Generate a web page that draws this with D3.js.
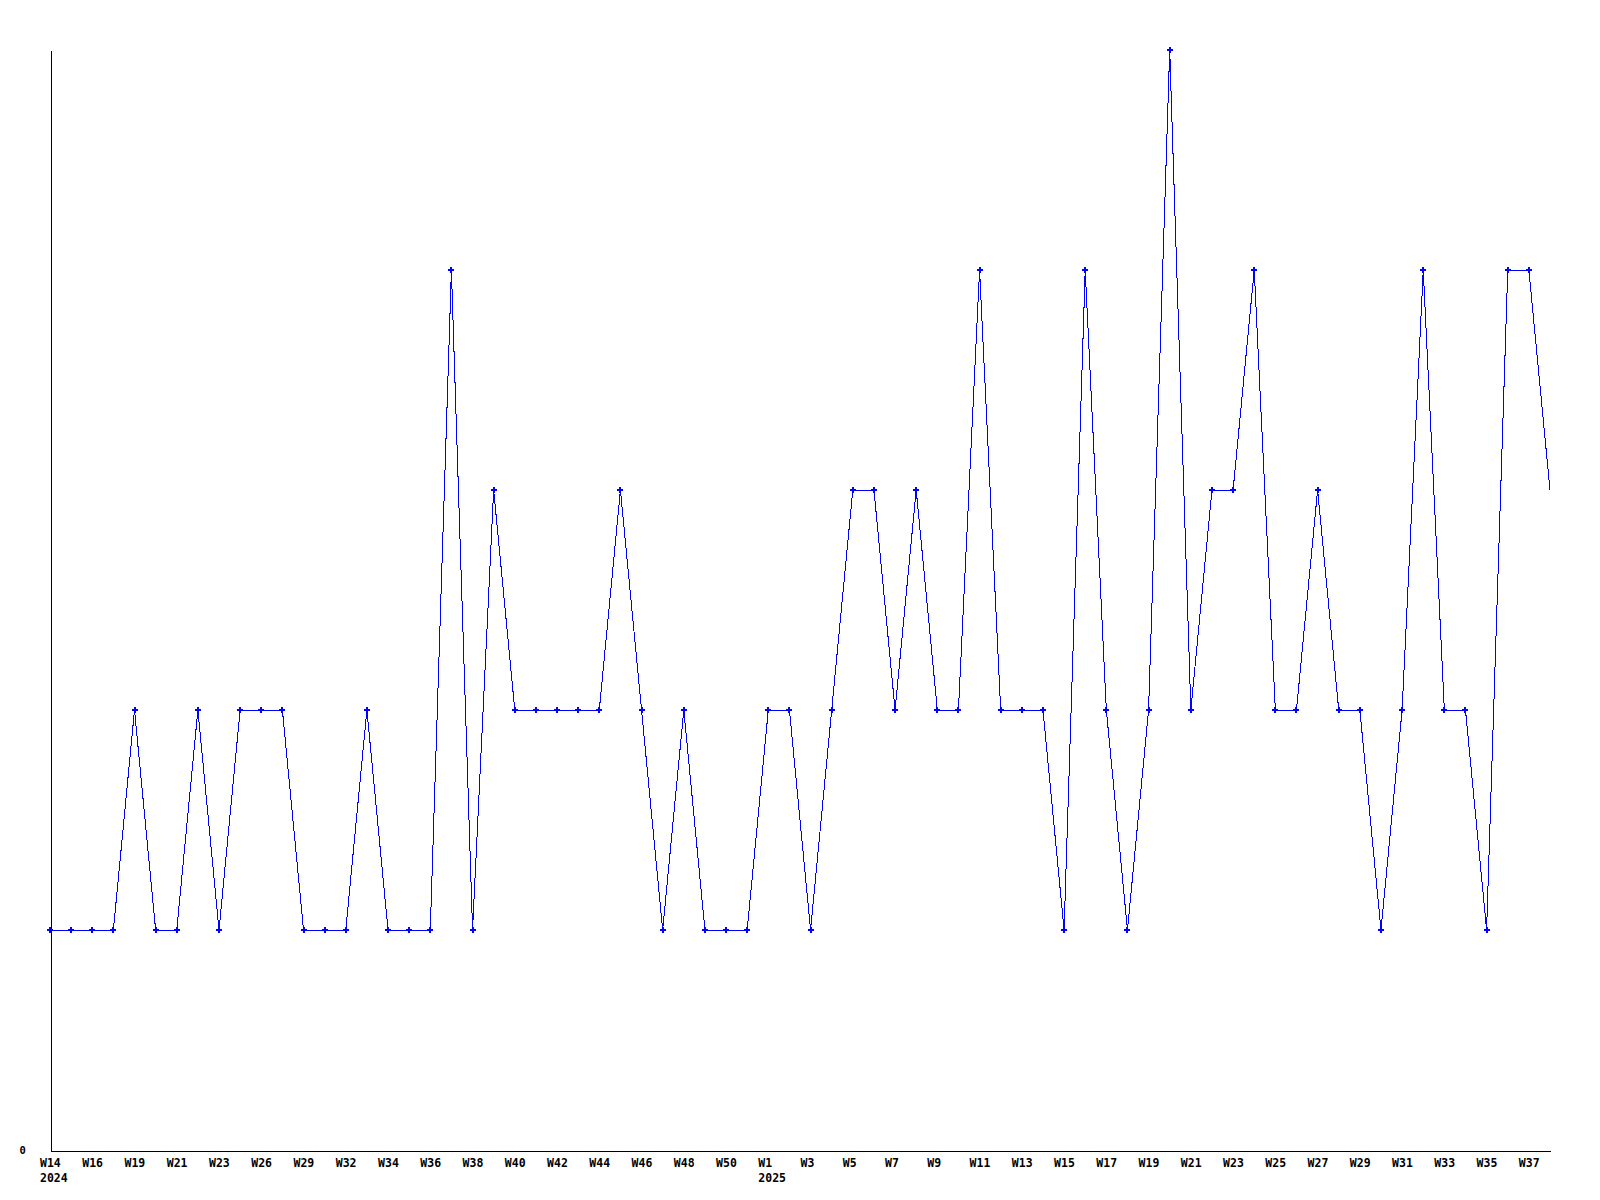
<html>
  <meta charset="utf-8" />
  <script src="https://d3js.org/d3.v7.min.js"></script>
  <style>
    body { margin: 0; background: #fff; }
    .axis text { font-family: "DejaVu Sans Mono", monospace; font-weight: bold; fill: #000; }
    .axis path { stroke: #000; }
  </style>
  <body>
    <svg width="1600" height="1200" id="chart"></svg>
    <script>
      const weeks = [
        "W14", "W15", "W16", "W17", "W19", "W20", "W21", "W22", "W23", "W24",
        "W26", "W27", "W29", "W30", "W32", "W33", "W34", "W35", "W36", "W37",
        "W38", "W39", "W40", "W41", "W42", "W43", "W44", "W45", "W46", "W47",
        "W48", "W49", "W50", "W51",
        "W1", "W2", "W3", "W4", "W5", "W6", "W7", "W8", "W9", "W10",
        "W11", "W12", "W13", "W14", "W15", "W16", "W17", "W18", "W19", "W20",
        "W21", "W22", "W23", "W24", "W25", "W26", "W27", "W28", "W29", "W30",
        "W31", "W32", "W33", "W34", "W35", "W36", "W37", "W38"
      ];
      const years = weeks.map((w, i) => (i < 34 ? "2024" : "2025"));
      const counts = [
        1, 1, 1, 1, 2, 1, 1, 2, 1, 2,
        2, 2, 1, 1, 1, 2, 1, 1, 1, 4,
        1, 3, 2, 2, 2, 2, 2, 3, 2, 1,
        2, 1, 1, 1,
        2, 2, 1, 2, 3, 3, 2, 3, 2, 2,
        4, 2, 2, 2, 1, 4, 2, 1, 2, 5,
        2, 3, 3, 4, 2, 2, 3, 2, 2, 1,
        2, 4, 2, 2, 1, 4, 4, 3
      ];
      const yTicks = [0];

      const mLeft = 50, mRight = 1550, mTop = 50, mBottom = 1150;
      const svg = d3.select("#chart");

      const x = d3.scalePoint().domain(d3.range(weeks.length)).range([mLeft, mRight]);
      const y = d3.scaleLinear().domain([0, d3.max(counts)]).range([mBottom, mTop]);

      // x axis, label every second week, year under first week of each year
      const xAxis = svg.append("g")
        .attr("class", "axis")
        .attr("transform", `translate(0,${mBottom + 0.5})`)
        .call(d3.axisBottom(x)
          .tickValues(d3.range(0, weeks.length, 2))
          .tickSize(0)
          .tickSizeOuter(0)
          .tickFormat(""));
      xAxis.select(".domain").attr("shape-rendering", "crispEdges");
      xAxis.selectAll(".tick").each(function (i) {
        const t = d3.select(this).select("text")
          .attr("y", 0).attr("dy", null)
          .attr("text-anchor", "start")
          .attr("font-size", "11.5px");
        t.append("tspan").attr("x", -10.5).attr("y", 16).text(weeks[i]);
        if (i === 0 || years[i] !== years[i - 1]) {
          t.append("tspan").attr("x", -10.5).attr("y", 31).text(years[i]);
        }
      });

      const yAxis = svg.append("g")
        .attr("class", "axis")
        .attr("transform", `translate(${mLeft + 0.5},0)`)
        .call(d3.axisLeft(y).tickValues(yTicks).tickFormat(d3.format("d")).tickSize(0).tickSizeOuter(0));
      yAxis.select(".domain").attr("shape-rendering", "crispEdges");
      yAxis.selectAll("text").attr("font-size", "10.5px").attr("text-anchor", "start").attr("x", -31);

      const line = d3.line()
        .x((d, i) => x(i))
        .y((d) => y(d));

      svg.append("path")
        .datum(counts)
        .attr("fill", "none")
        .attr("stroke", "#0000ff")
        .attr("stroke-width", 1)
        .attr("shape-rendering", "crispEdges")
        .attr("d", line);

      // small plus markers (last point sits on the edge and has none)
      const marks = svg.append("g").attr("fill", "#0000ff").attr("shape-rendering", "crispEdges");
      counts.slice(0, -1).forEach((d, i) => {
        const cx = Math.round(x(i)), cy = Math.round(y(d));
        marks.append("rect").attr("x", cx - 3).attr("y", cy - 1).attr("width", 6).attr("height", 2);
        marks.append("rect").attr("x", cx - 1).attr("y", cy - 3).attr("width", 2).attr("height", 6);
      });
    </script>
  </body>
</html>
